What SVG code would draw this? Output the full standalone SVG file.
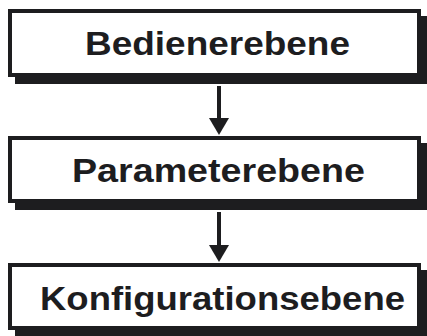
<svg xmlns="http://www.w3.org/2000/svg" width="427" height="336" viewBox="0 0 427 336">
<style>
.shadow{fill:#1d1d1f}
.box{fill:#fff;stroke:#1d1d1f;stroke-width:4}
.lbl{font-family:"Liberation Sans",Arial,Helvetica,sans-serif;font-weight:bold;font-size:33px;fill:#1d1d1f}
.conn{stroke:#1d1d1f;stroke-width:4;fill:none}
.head{fill:#1d1d1f}
</style>
<rect width="427" height="336" fill="#fff"/>
<g id="node-bedienerebene">
<rect class="shadow" x="15" y="16" width="413" height="68"/>
<rect class="box" x="10" y="11" width="409" height="64"/>
<text class="lbl" x="85" y="55" textLength="265" lengthAdjust="spacingAndGlyphs">Bedienerebene</text>
</g>
<g id="node-parameterebene">
<rect class="shadow" x="15" y="143" width="413" height="67"/>
<rect class="box" x="10" y="138" width="409" height="63"/>
<text class="lbl" x="72" y="182" textLength="293" lengthAdjust="spacingAndGlyphs">Parameterebene</text>
</g>
<g id="node-konfigurationsebene">
<rect class="shadow" x="15" y="270" width="413" height="67"/>
<rect class="box" x="10" y="265" width="409" height="63"/>
<text class="lbl" x="40" y="310" textLength="365" lengthAdjust="spacingAndGlyphs">Konfigurationsebene</text>
</g>
<g id="connectors">
<line class="conn" x1="219" y1="86" x2="219" y2="120"/>
<polygon class="head" points="209,118 229,118 219,135"/>
<line class="conn" x1="219" y1="212" x2="219" y2="247"/>
<polygon class="head" points="209,245 229,245 219,262"/>
</g>
</svg>
